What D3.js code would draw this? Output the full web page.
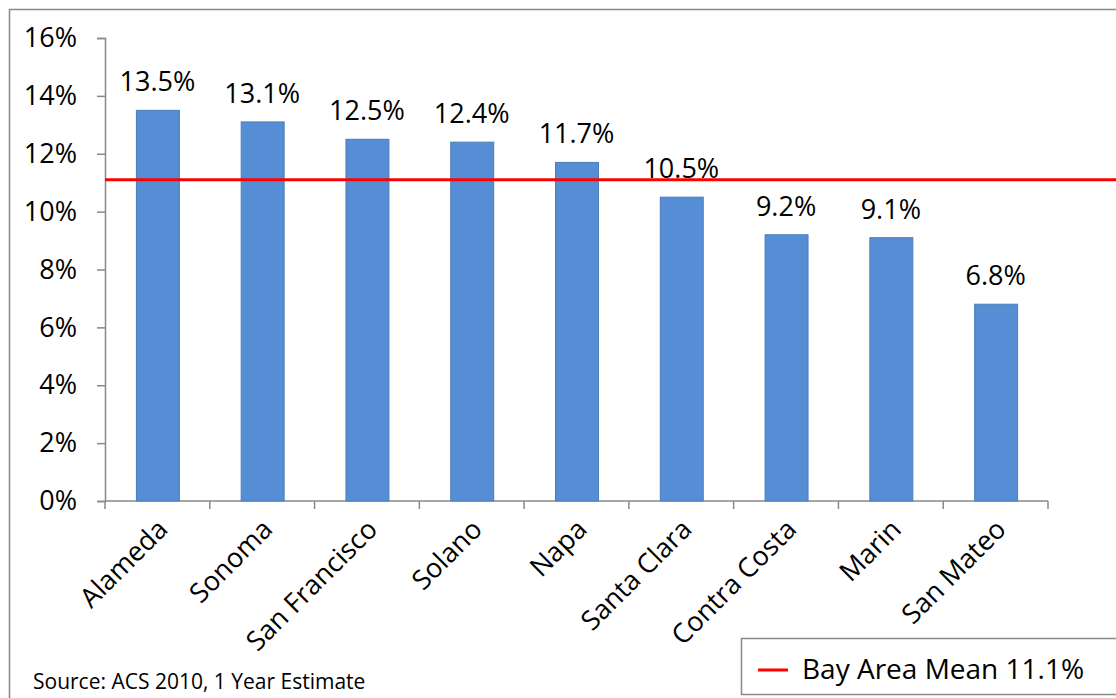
<!DOCTYPE html>
<html>
<head>
<meta charset="utf-8">
<script src="https://cdn.jsdelivr.net/npm/d3@7"></script>
<style>
  html, body { margin: 0; padding: 0; background: #fff; }
  svg { display: block; }
  text { font-family: "Open Sans", "Noto Sans", sans-serif; fill: #000; }
</style>
</head>
<body>
<svg id="chart" width="1116" height="698"></svg>
<script>
// County shares (%), ordered high to low
const counties = ["Alameda", "Sonoma", "San Francisco", "Solano", "Napa",
                  "Santa Clara", "Contra Costa", "Marin", "San Mateo"];
const shares = [13.5, 13.1, 12.5, 12.4, 11.7, 10.5, 9.2, 9.1, 6.8];
const yTicks = [0, 2, 4, 6, 8, 10, 12, 14, 16];
const bayAreaMean = 11.1;
const legendLabel = "Bay Area Mean 11.1%";
const sourceNote = "Source: ACS 2010, 1 Year Estimate";

const svg = d3.select("#chart");
const W = 1116, H = 698;
const axisColor = "#898989";
const barFill = "#558ed5";
const barStroke = "#4a7ebb";
const fontSize = 27;

const plot = { left: 105, right: 1048, top: 38, bottom: 501 };

const x = d3.scaleBand()
  .domain(counties)
  .range([plot.left, plot.right])
  .paddingInner(0.59)
  .paddingOuter(0.295);

const y = d3.scaleLinear()
  .domain([0, 16])
  .range([plot.bottom, plot.top]);

// Outer chart frame
svg.append("rect")
  .attr("x", 9.5).attr("y", 9.5)
  .attr("width", W + 50).attr("height", H + 50)
  .attr("fill", "none")
  .attr("stroke", axisColor)
  .attr("stroke-width", 1.5);

// Y axis
const yAxis = d3.axisLeft(y)
  .tickValues(yTicks)
  .tickSize(8)
  .tickPadding(20)
  .tickFormat(d => d + "%");
const gy = svg.append("g")
  .attr("transform", `translate(${plot.left},0)`)
  .call(yAxis);
gy.select(".domain").attr("stroke", axisColor).attr("stroke-width", 1.5);
gy.selectAll(".tick line").attr("stroke", axisColor).attr("stroke-width", 1.5);
gy.selectAll(".tick text")
  .attr("font-size", fontSize)
  .attr("font-family", "'Open Sans', sans-serif")
  .attr("fill", "#000");

// X axis line with ticks at category boundaries
const step = x.step();
const boundaries = d3.range(counties.length + 1).map(i => plot.left + i * step);
svg.append("line")
  .attr("x1", plot.left).attr("x2", plot.right)
  .attr("y1", y(0)).attr("y2", y(0))
  .attr("stroke", axisColor).attr("stroke-width", 1.5);
svg.append("g").selectAll("line")
  .data(boundaries)
  .join("line")
  .attr("x1", d => d).attr("x2", d => d)
  .attr("y1", y(0)).attr("y2", y(0) + 8)
  .attr("stroke", axisColor).attr("stroke-width", 1.5);

// Bars
svg.append("g").selectAll("rect")
  .data(counties)
  .join("rect")
  .attr("x", d => x(d) + 0.5)
  .attr("y", (d, i) => y(shares[i]))
  .attr("width", x.bandwidth())
  .attr("height", (d, i) => y(0) - y(shares[i]))
  .attr("fill", barFill)
  .attr("stroke", barStroke)
  .attr("stroke-width", 1);

// Value labels
svg.append("g").selectAll("text")
  .data(counties)
  .join("text")
  .attr("x", d => x(d) + x.bandwidth() / 2)
  .attr("y", (d, i) => y(shares[i]) - 19)
  .attr("text-anchor", "middle")
  .attr("font-size", fontSize)
  .text((d, i) => shares[i].toFixed(1) + "%");

// Category labels, rotated
svg.append("g").selectAll("text")
  .data(counties)
  .join("text")
  .attr("transform", d => `translate(${x(d) + x.bandwidth() / 2 + 12},${y(0) + 30}) rotate(-45)`)
  .attr("text-anchor", "end")
  .attr("font-size", fontSize)
  .text(d => d);

// Bay Area mean line
svg.append("line")
  .attr("x1", plot.left).attr("x2", W)
  .attr("y1", y(bayAreaMean)).attr("y2", y(bayAreaMean))
  .attr("stroke", "#ff0000")
  .attr("stroke-width", 3);

// Legend
const lg = svg.append("g").attr("transform", "translate(741,638)");
lg.append("rect")
  .attr("x", 0.5).attr("y", 0.5)
  .attr("width", 500).attr("height", 56)
  .attr("fill", "#fff")
  .attr("stroke", axisColor)
  .attr("stroke-width", 1.5);
lg.append("line")
  .attr("x1", 17).attr("x2", 47)
  .attr("y1", 32).attr("y2", 32)
  .attr("stroke", "#ff0000").attr("stroke-width", 3);
lg.append("text")
  .attr("x", 61).attr("y", 41)
  .attr("font-size", 28)
  .text(legendLabel);

// Source note
svg.append("text")
  .attr("x", 33).attr("y", 689)
  .attr("font-size", 21)
  .text(sourceNote);
</script>
</body>
</html>
